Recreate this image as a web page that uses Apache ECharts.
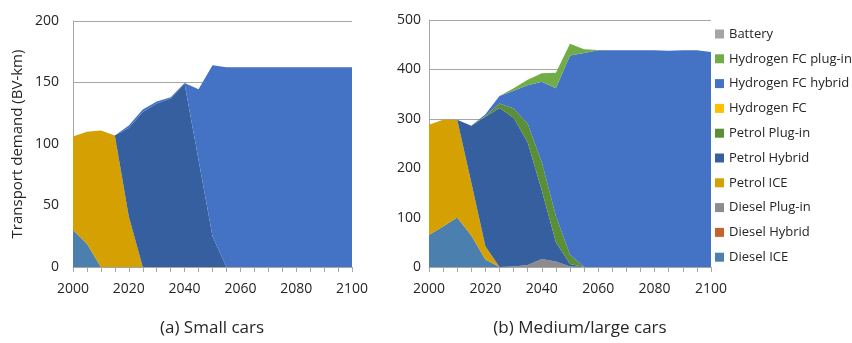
<!DOCTYPE html>
<html>
<head>
<meta charset="utf-8">
<script src="https://cdn.jsdelivr.net/npm/echarts@6/dist/echarts.min.js"></script>
<style>
  html, body { margin: 0; padding: 0; background: #ffffff; }
  #chart { width: 852px; height: 343px; }
</style>
</head>
<body>
<div id="chart"></div>
<script>
// Model years (5-year steps)
const years = ['2000', '2005', '2010', '2015', '2020', '2025', '2030', '2035', '2040', '2045', '2050',
               '2055', '2060', '2065', '2070', '2075', '2080', '2085', '2090', '2095', '2100'];

// Vehicle technologies, bottom of the stack first
const techNames = ['Diesel ICE', 'Diesel Hybrid', 'Diesel Plug-in', 'Petrol ICE', 'Petrol Hybrid',
                   'Petrol Plug-in', 'Hydrogen FC', 'Hydrogen FC hybrid', 'Hydrogen FC plug-in', 'Battery'];
const techColors = ['#4b7fae', '#c8622b', '#8c8c8c', '#d4a002', '#365f9f',
                    '#5a8f36', '#ffc000', '#4472c4', '#70ad47', '#a5a5a5'];

// (a) Small cars, transport demand in BV-km
const smallDieselICE      = [30, 19, 0, 0, 0, 0, 0, 0, 0, 0, 0, 0, 0, 0, 0, 0, 0, 0, 0, 0, 0];
const smallDieselHybrid   = [0, 0, 0, 0, 0, 0, 0, 0, 0, 0, 0, 0, 0, 0, 0, 0, 0, 0, 0, 0, 0];
const smallDieselPlugin   = [0, 0, 0, 0, 0, 0, 0, 0, 0, 0, 0, 0, 0, 0, 0, 0, 0, 0, 0, 0, 0];
const smallPetrolICE      = [76, 91, 111, 107, 41, 0, 0, 0, 0, 0, 0, 0, 0, 0, 0, 0, 0, 0, 0, 0, 0];
const smallPetrolHybrid   = [0, 0, 0, 0, 72, 126, 133, 137, 149, 87, 25, 0, 0, 0, 0, 0, 0, 0, 0, 0, 0];
const smallPetrolPlugin   = [0, 0, 0, 0, 0, 0, 0, 0, 0, 0, 0, 0, 0, 0, 0, 0, 0, 0, 0, 0, 0];
const smallHydrogenFC     = [0, 0, 0, 0, 0, 0, 0, 0, 0, 0, 0, 0, 0, 0, 0, 0, 0, 0, 0, 0, 0];
const smallHydrogenHybrid = [0, 0, 0, 0, 2, 2, 1.5, 1, 0.5, 57.5, 139, 162.5, 162.5, 162.5, 162.5,
                             162.5, 162.5, 162.5, 162.5, 162.5, 162.5];
const smallHydrogenPlugin = [0, 0, 0, 0, 0, 0, 0, 0, 0, 0, 0, 0, 0, 0, 0, 0, 0, 0, 0, 0, 0];
const smallBattery        = [0, 0, 0, 0, 0, 0, 0, 0, 0, 0, 0, 0, 0, 0, 0, 0, 0, 0, 0, 0, 0];

// (b) Medium/large cars, transport demand in BV-km
const largeDieselICE      = [65, 82, 100, 64, 15, 0, 0, 0, 0, 0, 0, 0, 0, 0, 0, 0, 0, 0, 0, 0, 0];
const largeDieselHybrid   = [0, 0, 0, 0, 0, 0, 0, 0, 0, 0, 0, 0, 0, 0, 0, 0, 0, 0, 0, 0, 0];
const largeDieselPlugin   = [0, 0, 0, 0, 0, 0, 1, 4, 16, 11, 1, 0, 0, 0, 0, 0, 0, 0, 0, 0, 0];
const largePetrolICE      = [223, 216, 198, 107, 27, 0, 0, 0, 0, 0, 0, 0, 0, 0, 0, 0, 0, 0, 0, 0, 0];
const largePetrolHybrid   = [0, 0, 0, 115, 262, 322, 301, 248, 139, 39, 5, 0, 0, 0, 0, 0, 0, 0, 0, 0, 0];
const largePetrolPlugin   = [0, 0, 0, 0, 2, 9, 19, 38, 57, 53, 19, 0, 0, 0, 0, 0, 0, 0, 0, 0, 0];
const largeHydrogenFC     = [0, 0, 0, 0, 0, 0, 0, 0, 0, 0, 0, 0, 0, 0, 0, 0, 0, 0, 0, 0, 0];
const largeHydrogenHybrid = [0, 0, 0, 0, 3, 15, 36, 78, 163, 259, 403, 433, 439, 439, 439, 439,
                             439, 438, 439, 439, 435];
const largeHydrogenPlugin = [0, 0, 0, 0, 0, 0, 5, 11, 17, 31, 24, 8, 0.5, 0, 0, 0, 0, 0, 0, 0, 0];
const largeBattery        = [0, 0, 0, 0, 0, 0, 0, 0, 0, 0, 0, 0, 0, 0, 0, 0, 0, 0, 0, 0, 0];

// Axis ticks
const yTicksSmall = { min: 0, max: 200, interval: 50 };
const yTicksLarge = { min: 0, max: 500, interval: 100 };
const xLabelEvery = 4; // label every 20 years

const smallSets = [smallDieselICE, smallDieselHybrid, smallDieselPlugin, smallPetrolICE, smallPetrolHybrid,
                   smallPetrolPlugin, smallHydrogenFC, smallHydrogenHybrid, smallHydrogenPlugin, smallBattery];
const largeSets = [largeDieselICE, largeDieselHybrid, largeDieselPlugin, largePetrolICE, largePetrolHybrid,
                   largePetrolPlugin, largeHydrogenFC, largeHydrogenHybrid, largeHydrogenPlugin, largeBattery];

const FONT = '"Open Sans", "Noto Sans", sans-serif';
const TEXT = '#262626';
const AXIS_GREY = '#a6a6a6';

function areaSeries(sets, axisIndex, stackId) {
  return sets.map((vals, i) => ({
    name: techNames[i],
    type: 'line',
    stack: stackId,
    xAxisIndex: axisIndex,
    yAxisIndex: axisIndex,
    data: vals,
    symbol: 'none',
    showSymbol: false,
    smooth: false,
    lineStyle: { width: 0 },
    areaStyle: { color: techColors[i], opacity: 1 },
    itemStyle: { color: techColors[i] },
    emphasis: { disabled: true },
    silent: true
  }));
}

function xAxisDef(gridIndex) {
  return {
    type: 'category', gridIndex: gridIndex,
    data: years,
    boundaryGap: false,
    axisLine: { show: true, lineStyle: { color: AXIS_GREY, width: 1 } },
    axisTick: { show: true, interval: 0, length: 5, lineStyle: { color: AXIS_GREY } },
    splitLine: { show: false },
    axisLabel: {
      color: TEXT, fontFamily: FONT, fontSize: 14, margin: 15,
      interval: (idx) => idx % xLabelEvery === 0
    }
  };
}

function yAxisDef(gridIndex, ticks, labelMargin, extra) {
  return Object.assign({
    type: 'value', gridIndex: gridIndex,
    min: ticks.min, max: ticks.max, interval: ticks.interval,
    axisLine: { show: true, lineStyle: { color: AXIS_GREY, width: 1 } },
    axisTick: { show: false },
    splitLine: { show: true, lineStyle: { color: AXIS_GREY, width: 1 } },
    axisLabel: { color: TEXT, fontFamily: FONT, fontSize: 14, margin: labelMargin }
  }, extra || {});
}

const chart = echarts.init(document.getElementById('chart'), null, { renderer: 'canvas' });

chart.setOption({
  animation: false,
  backgroundColor: '#ffffff',
  grid: [
    { left: 73, right: 500, top: 21, bottom: 76 },
    { left: 429, right: 141, top: 20, bottom: 76 }
  ],
  xAxis: [xAxisDef(0), xAxisDef(1)],
  yAxis: [
    yAxisDef(0, yTicksSmall, 14, {
      name: 'Transport demand (BV-km)',
      nameLocation: 'middle',
      nameGap: 48,
      nameTextStyle: { color: TEXT, fontFamily: FONT, fontSize: 15 }
    }),
    yAxisDef(1, yTicksLarge, 8)
  ],
  legend: {
    orient: 'vertical',
    left: 710,
    top: 22,
    icon: 'rect',
    itemWidth: 9,
    itemHeight: 9,
    itemGap: 10.8,
    data: techNames.slice().reverse(),
    selectedMode: false,
    textStyle: { color: TEXT, fontFamily: FONT, fontSize: 13, lineHeight: 14 }
  },
  graphic: [
    {
      type: 'text', x: 212, y: 328,
      style: { text: '(a) Small cars', fill: TEXT, font: '17px ' + FONT, textAlign: 'center', textVerticalAlign: 'middle' }
    },
    {
      type: 'text', x: 580, y: 328,
      style: { text: '(b) Medium/large cars', fill: TEXT, font: '17px ' + FONT, textAlign: 'center', textVerticalAlign: 'middle' }
    }
  ],
  series: areaSeries(smallSets, 0, 'small').concat(areaSeries(largeSets, 1, 'large'))
});
</script>
</body>
</html>
